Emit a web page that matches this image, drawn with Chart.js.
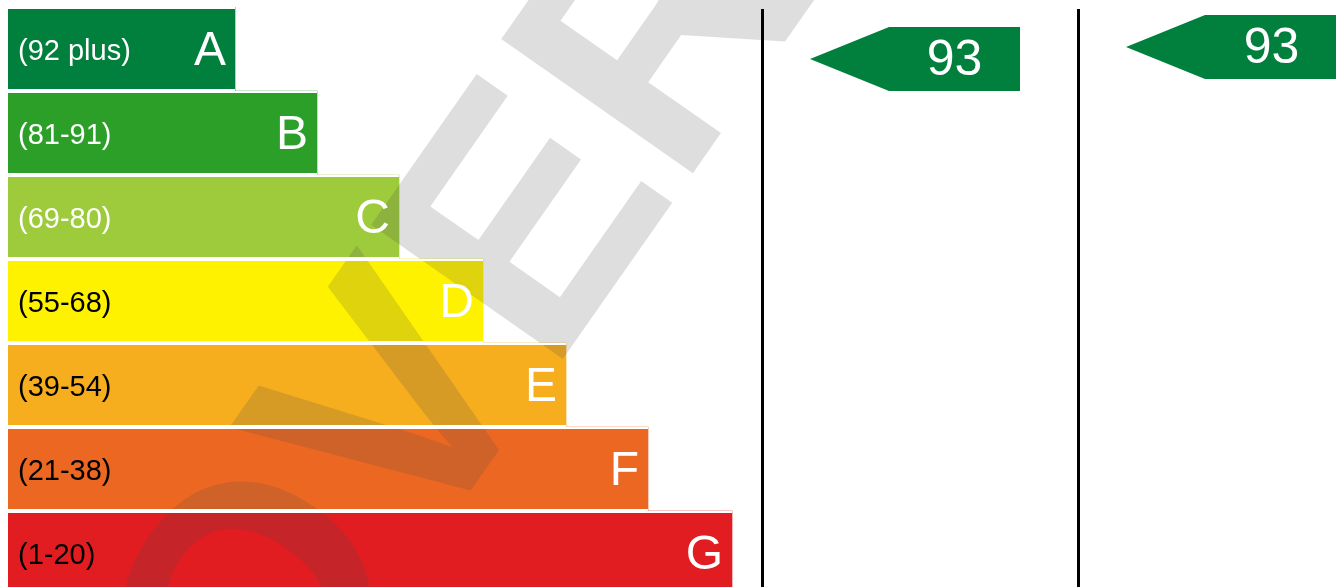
<!DOCTYPE html>
<html>
<head>
<meta charset="utf-8">
<title>Grafico EPC</title>
<script src="https://cdn.jsdelivr.net/npm/chart.js@4.4.1/dist/chart.umd.min.js"></script>
<style>
    html, body { margin: 0; padding: 0; background: #fff; overflow: hidden; }
    #contenedor { width: 1336px; height: 587px; overflow: hidden; }
    canvas { display: block; }
</style>
</head>
<body>
<div id="contenedor"><canvas id="graficoEPC" width="1336" height="600"></canvas></div>
<script>
// --- 1. DATOS ---
const bandas = ['A', 'B', 'C', 'D', 'E', 'F', 'G'];
const rangos = ['(92 plus)', '(81-91)', '(69-80)', '(55-68)', '(39-54)', '(21-38)', '(1-20)'];
const minimos = [92, 81, 69, 55, 39, 21, 1];
const largos = [227, 309, 391, 475, 558, 640, 724];   // largo de cada barra (eje x)
const coloresBanda = ['#007f3d', '#2c9f29', '#9dcb3c', '#fff200', '#f6ae1e', '#ec6822', '#e11d22'];
const coloresRango = ['#fff', '#fff', '#fff', '#000', '#000', '#000', '#000'];
const puntajes = [93, 93];   // actual, potencial

const FUENTE = '"Liberation Sans", Arial, sans-serif';

// banda que corresponde a un puntaje
function bandaDe(p) {
    const i = minimos.findIndex(m => p >= m);
    return i < 0 ? minimos.length - 1 : i;
}

// --- 2. PLUGIN: marca de agua, textos, columnas y flechas ---
const pluginEPC = {
    id: 'epc',
    afterDatasetsDraw(chart, args, opts) {
        const ctx = chart.ctx;
        const ejeX = chart.scales.x;
        const ejeY = chart.scales.y;
        const barras = chart.getDatasetMeta(0).data;

        // marca de agua (encima de las barras)
        ctx.save();
        ctx.translate(opts.marca.x, opts.marca.y);
        ctx.rotate(opts.marca.angulo * Math.PI / 180);
        ctx.font = 'bold ' + opts.marca.tam + 'px ' + FUENTE;
        ctx.fillStyle = 'rgba(70,70,70,0.18)';
        ctx.textAlign = 'left';
        ctx.textBaseline = 'alphabetic';
        ctx.fillText(opts.marca.texto, 0, 0);
        ctx.restore();

        // separaciones blancas y textos de cada barra
        let techo = 0;
        barras.forEach((barra, i) => {
            const { x: fin, y: centro, base, height } = barra.getProps(['x', 'y', 'base', 'height'], true);
            const arriba = centro - height / 2;
            if (i === 0) techo = arriba + opts.hueco;
            ctx.fillStyle = '#fff';
            ctx.fillRect(base, arriba, fin - base, opts.hueco);
            ctx.fillRect(base, arriba + height - opts.hueco, fin - base, opts.hueco);

            ctx.font = '29px ' + FUENTE;
            ctx.fillStyle = coloresRango[i];
            ctx.textAlign = 'left';
            ctx.textBaseline = 'alphabetic';
            ctx.fillText(rangos[i], base + 10, centro + 11);

            ctx.font = '48px ' + FUENTE;
            ctx.fillStyle = '#fff';
            ctx.textAlign = 'right';
            ctx.fillText(bandas[i], fin - 9, centro + 16);
        });

        // lineas de columnas
        ctx.save();
        ctx.strokeStyle = '#000';
        ctx.lineWidth = 3;
        opts.columnas.forEach(v => {
            const px = ejeX.getPixelForValue(v);
            ctx.beginPath();
            ctx.moveTo(px, techo);
            ctx.lineTo(px, chart.height);
            ctx.stroke();
        });
        ctx.restore();

        // flechas actual / potencial
        opts.flechas.forEach((f, i) => {
            const c = ejeY.getPixelForValue(f.centro);
            const mitad = ejeY.getPixelForValue(f.centro + f.alto / 2) - c;
            const xp = ejeX.getPixelForValue(f.punta);
            const xh = ejeX.getPixelForValue(f.hombro);
            const xf = ejeX.getPixelForValue(f.fin);
            ctx.beginPath();
            ctx.moveTo(xp, c);
            ctx.lineTo(xh, c - mitad);
            ctx.lineTo(xf, c - mitad);
            ctx.lineTo(xf, c + mitad);
            ctx.lineTo(xh, c + mitad);
            ctx.closePath();
            ctx.fillStyle = coloresBanda[bandaDe(puntajes[i])];
            ctx.fill();

            ctx.font = '50px ' + FUENTE;
            ctx.fillStyle = '#fff';
            ctx.textAlign = 'center';
            ctx.textBaseline = 'alphabetic';
            ctx.fillText(String(puntajes[i]), (xh + xf) / 2, c + 16);
        });
    }
};

// --- 3. GRAFICO ---
new Chart(document.getElementById('graficoEPC'), {
    type: 'bar',
    data: {
        labels: bandas,
        datasets: [{
            data: largos,
            backgroundColor: coloresBanda,
            borderWidth: 0,
            barPercentage: 1,
            categoryPercentage: 1
        }]
    },
    options: {
        indexAxis: 'y',
        responsive: false,
        maintainAspectRatio: false,
        animation: false,
        layout: { padding: { left: 8, right: 0, top: 7, bottom: 5 } },
        scales: {
            x: { type: 'linear', min: 0, max: 1328, display: false },
            y: { display: false }
        },
        plugins: {
            legend: { display: false },
            tooltip: { enabled: false },
            epc: {
                hueco: 2,
                marca: { texto: 'OVER', x: 268, y: 780, angulo: -55, tam: 340 },
                columnas: [754.5, 1070.5],
                flechas: [
                    { punta: 802, hombro: 881, fin: 1012, centro: 0.12, alto: 0.762 },
                    { punta: 1118, hombro: 1197, fin: 1330, centro: -0.024, alto: 0.762 }
                ]
            }
        }
    },
    plugins: [pluginEPC]
});
</script>
</body>
</html>
